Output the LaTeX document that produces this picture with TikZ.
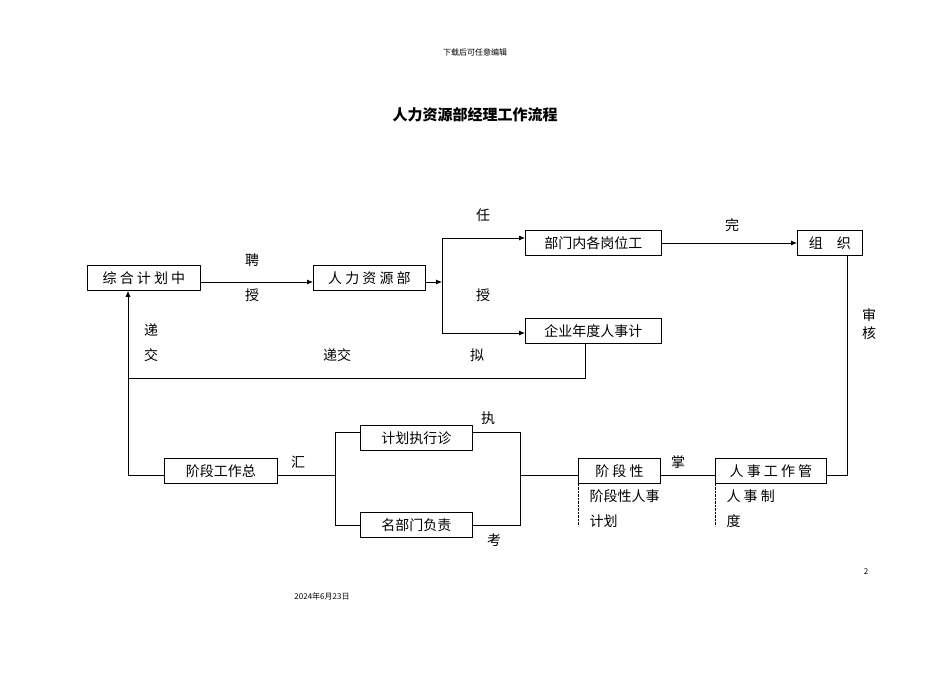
\documentclass[tikz,border=0pt]{standalone}
\usepackage{fontspec}
\setmainfont{Noto Sans CJK SC}
\usetikzlibrary{arrows.meta}
\begin{document}
\begin{tikzpicture}[x=1pt,y=-1pt,
 bx/.style={draw,thick,font=\fontsize{14}{14}\selectfont,inner sep=0,minimum height=25,anchor=north west},
 lb/.style={font=\fontsize{14}{14}\selectfont},
 ln/.style={thick},
 ar/.style={thick,-{Latex[length=6,width=5]}}]
\useasboundingbox (0,0) rectangle (950,672);
\node[font=\fontsize{8}{8}\selectfont] (hd) at (475,52) {下载后可任意编辑};
\node[font=\fontsize{15}{15}\selectfont\bfseries] (tt) at (475,115) {人力资源部经理工作流程};
\node[font=\fontsize{8}{8}\selectfont] (pg) at (866,572) {2};
\node[font=\fontsize{8}{8}\selectfont] (dt) at (322,596) {2024年6月23日};
\node[bx,minimum width=113] (zh) at (87,265) {综 合 计 划 中};
\node[bx,minimum width=112] (rl) at (313,265) {人 力 资 源 部};
\node[bx,minimum width=136] (bm) at (525,230) {部门内各岗位工};
\node[bx,minimum width=136] (qy) at (525,318) {企业年度人事计};
\node[bx,minimum width=65] (zz) at (797,230) {组\quad 织};
\node[bx,minimum width=113] (jd) at (164,458) {阶段工作总};
\node[bx,minimum width=112] (jh) at (360,425) {计划执行诊};
\node[bx,minimum width=112] (mb) at (360,512) {名部门负责};
\node[bx,minimum width=82] (jx) at (578,458) {阶 段 性};
\node[bx,minimum width=111] (rs) at (715,458) {人 事 工 作 管};
\draw[densely dotted] (jx.south west) -- ++(0,42);
\draw[densely dotted] (rs.south west) -- ++(0,42);
\begin{scope}
\clip (570,484) rectangle (880,526);
\node[lb,anchor=west] (t1) at (586,496) {阶段性人事};
\node[lb,anchor=west] (t2) at (586,521) {计划};
\node[lb,anchor=west] (t3) at (723,496) {人 事 制};
\node[lb,anchor=west] (t4) at (723,521) {度};
\end{scope}
\draw[ar] (zh.east |- 0,282) -- (rl.west |- 0,282);
\coordinate (sp) at (442,282);
\draw[ar] (rl.east |- sp) -- (sp);
\draw[ln] (442,238) -- (442,333);
\draw[ar] (442,238) -- (bm.west |- 0,238);
\draw[ar] (442,333) -- (qy.west |- 0,333);
\draw[ar] (bm.east |- 0,243) -- (zz.west |- 0,243);
\draw[ln] (zz.south -| 847,0) -- (847,475) -- (rs.east |- 0,475);
\draw[ln] (qy.south -| 585,0) -- (585,378) -- (128,378);
\draw[ar] (128,475) -- (zh.south -| 128,0);
\draw[ln] (128,475) -- (jd.west |- 0,475);
\draw[ln] (jd.east |- 0,475) -- (335,475);
\draw[ln] (jh.west |- 0,432) -- (335,432) -- (335,525) -- (mb.west |- 0,525);
\draw[ln] (jh.east |- 0,432) -- (520,432) -- (520,525) -- (mb.east |- 0,525);
\draw[ln] (520,475) -- (jx.west |- 0,475);
\draw[ln] (jx.east |- 0,475) -- (rs.west |- 0,475);
\node[lb] (l1) at (252,260) {聘};
\node[lb] (l2) at (252,295) {授};
\node[lb] (l3) at (483,215) {任};
\node[lb] (l4) at (483,295) {授};
\node[lb] (l5) at (732,225) {完};
\node[lb] (l6) at (869,315) {审};
\node[lb] (l7) at (869,333) {核};
\node[lb] (l8) at (151,330) {递};
\node[lb] (l9) at (151,355) {交};
\node[lb] (l10) at (337,355) {递交};
\node[lb] (l11) at (477,355) {拟};
\node[lb] (l12) at (298,462) {汇};
\node[lb] (l13) at (488,418) {执};
\node[lb] (l14) at (494,540) {考};
\node[lb] (l15) at (678,462) {掌};
\end{tikzpicture}
\end{document}
